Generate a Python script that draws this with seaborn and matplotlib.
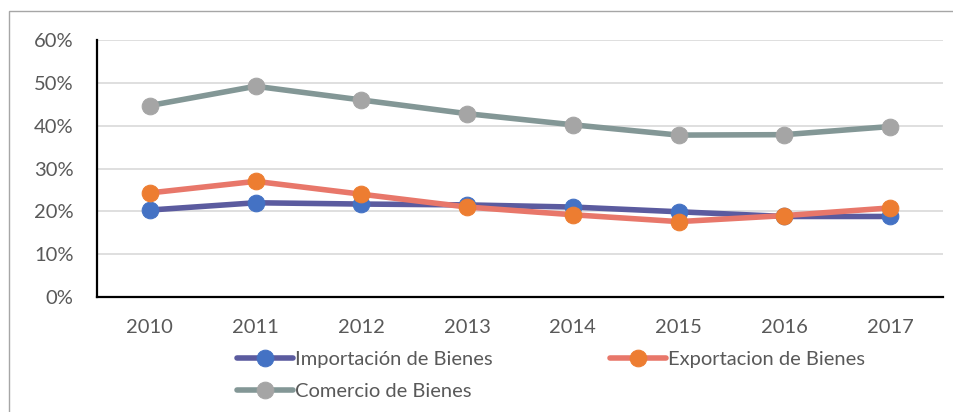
import seaborn as sns
import matplotlib.pyplot as plt
import pandas as pd
from matplotlib.patches import Rectangle
from matplotlib.ticker import PercentFormatter

# data (share of GDP, %)
years = ["2010", "2011", "2012", "2013", "2014", "2015", "2016", "2017"]
importacion = [20.3, 22.0, 21.7, 21.5, 21.0, 19.9, 18.8, 18.8]
exportacion = [24.3, 27.0, 24.0, 21.0, 19.2, 17.6, 19.0, 20.8]
comercio = [44.7, 49.2, 46.0, 42.8, 40.2, 37.8, 37.9, 39.8]

series = ["Importación de Bienes", "Exportacion de Bienes", "Comercio de Bienes"]
line_colors = ["#5B5B9F", "#E8776A", "#839796"]
marker_colors = ["#4472C4", "#ED7D31", "#A5A5A5"]

df = pd.DataFrame({"year": years * 3,
                   "value": importacion + exportacion + comercio,
                   "serie": [s for s in series for _ in years]})
df["pos"] = df["year"].map({y: i for i, y in enumerate(years)})

sns.set_style("white")
plt.rcParams["font.family"] = ["Lato", "DejaVu Sans"]

fig = plt.figure(figsize=(9.54, 4.12), dpi=100)
ax = fig.add_axes([97 / 954, 1 - 297 / 412, 846 / 954, 257 / 412])

for s, lc, mc in zip(series, line_colors, marker_colors):
    sns.lineplot(data=df[df["serie"] == s], x="pos", y="value", ax=ax,
                 color=lc, linewidth=4.0, marker="o", markersize=12,
                 markerfacecolor=mc, markeredgecolor=mc, label=s)

ax.set_xlim(-0.5, len(years) - 0.5)
ax.set_ylim(0, 60)
ax.set_xticks(range(len(years)))
ax.set_xticklabels(years)
ax.set_yticks(range(0, 61, 10))
ax.yaxis.set_major_formatter(PercentFormatter(decimals=0))
ax.set_xlabel("")
ax.set_ylabel("")
ax.grid(axis="y", color="#D9D9D9", linewidth=1.2)
ax.set_axisbelow(True)
for side in ["top", "right"]:
    ax.spines[side].set_visible(False)
for side in ["left", "bottom"]:
    ax.spines[side].set_color("black")
    ax.spines[side].set_linewidth(1.6)
ax.tick_params(axis="both", length=0, labelsize=14.5, colors="#595959")
ax.tick_params(axis="y", pad=17)
ax.tick_params(axis="x", pad=16)

# legend fills column-wise, so reorder to get Imp, Exp on row 1 and Com on row 2
handles, labels = ax.get_legend_handles_labels()
order = [0, 2, 1]
leg = ax.legend([handles[i] for i in order], [labels[i] for i in order],
                loc="upper left", bbox_to_anchor=(130 / 846, -0.17), ncol=2,
                frameon=False, fontsize=14.5, handlelength=2.8, handletextpad=0.1,
                columnspacing=5.8, labelspacing=0.75, borderpad=0)
for t in leg.get_texts():
    t.set_color("#595959")

# chart area border (left and top visible in the reference)
fig.patches.append(Rectangle((9 / 954, -0.1), 1.2, 1 - 11 / 412 + 0.1,
                             transform=fig.transFigure, fill=False,
                             edgecolor="#A6A6A6", linewidth=1))

fig.savefig("out.png", dpi=100)
